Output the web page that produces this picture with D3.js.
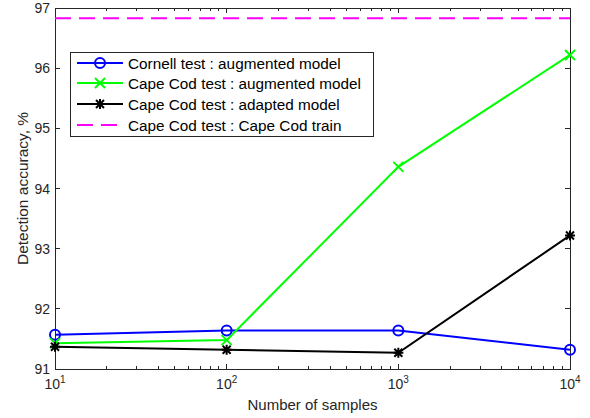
<!DOCTYPE html>
<html><head><meta charset="utf-8">
<script src="https://cdn.jsdelivr.net/npm/d3@7"></script>
<style>body{margin:0;background:#fff;} text{font-family:Helvetica, Arial, "Liberation Sans", sans-serif;}</style>
</head><body>
<svg id="c" width="590" height="418"></svg>
<script>
const samples = [10, 100, 1000, 10000];
const cornellAug = [91.57, 91.64, 91.64, 91.32];
const capeAug = [91.43, 91.48, 94.36, 96.22];
const capeAdapted = [91.37, 91.32, 91.27, 93.22];
const capeTrain = 96.83;
const yTicks = [91, 92, 93, 94, 95, 96, 97];
const xTickExps = [1, 2, 3, 4];
const seriesNames = ["Cornell test : augmented model", "Cape Cod test : augmented model", "Cape Cod test : adapted model", "Cape Cod test : Cape Cod train"];

const svg = d3.select("#c");
const L = 55, R = 570, T = 8, B = 369;
const x = d3.scaleLog().domain([10, 10000]).range([L, R]);
const y = d3.scaleLinear().domain([91, 97]).range([B, T]);
const axisCol = "#262626";

svg.append("rect").attr("width", 590).attr("height", 418).attr("fill", "#fff");

svg.append("rect").attr("x", L).attr("y", T).attr("width", R - L).attr("height", B - T)
  .attr("fill", "none").attr("stroke", axisCol).attr("stroke-width", 1).attr("shape-rendering", "crispEdges");

const minor = [];
for (let e = 1; e < 4; e++) for (let m = 2; m <= 9; m++) minor.push(m * Math.pow(10, e));
const gx = svg.append("g").attr("stroke", axisCol).attr("shape-rendering", "crispEdges");
xTickExps.forEach(e => {
  const px = x(Math.pow(10, e));
  gx.append("line").attr("x1", px).attr("x2", px).attr("y1", B).attr("y2", B - 5);
  gx.append("line").attr("x1", px).attr("x2", px).attr("y1", T).attr("y2", T + 5);
});
minor.forEach(v => {
  const px = x(v);
  gx.append("line").attr("x1", px).attr("x2", px).attr("y1", B).attr("y2", B - 3);
  gx.append("line").attr("x1", px).attr("x2", px).attr("y1", T).attr("y2", T + 3);
});
yTicks.forEach(v => {
  const py = y(v);
  gx.append("line").attr("x1", L).attr("x2", L + 5).attr("y1", py).attr("y2", py);
  gx.append("line").attr("x1", R).attr("x2", R - 5).attr("y1", py).attr("y2", py);
  svg.append("text").attr("x", L - 5).attr("y", py + 5).attr("text-anchor", "end")
    .attr("font-size", 14).attr("fill", axisCol).text(v);
});
xTickExps.forEach(e => {
  const t = svg.append("text").attr("x", x(Math.pow(10, e))).attr("y", 389).attr("text-anchor", "middle")
    .attr("font-size", 14).attr("fill", axisCol);
  t.append("tspan").text("10");
  t.append("tspan").attr("dy", -6).attr("font-size", 10).text(e);
});
svg.append("text").attr("x", (L + R) / 2).attr("y", 410).attr("text-anchor", "middle")
  .attr("font-size", 15).attr("fill", axisCol).text("Number of samples");
svg.append("text").attr("transform", `translate(28,${(T + B) / 2}) rotate(-90)`).attr("text-anchor", "middle")
  .attr("font-size", 15.5).attr("fill", axisCol).text("Detection accuracy, %");

function marker(g, type, cx, cy, col) {
  if (type === "o") {
    g.append("circle").attr("cx", cx).attr("cy", cy).attr("r", 5).attr("fill", "none").attr("stroke", col).attr("stroke-width", 2);
  } else if (type === "x") {
    const s = 5;
    g.append("path").attr("d", `M${cx - s},${cy - s}L${cx + s},${cy + s}M${cx - s},${cy + s}L${cx + s},${cy - s}`)
      .attr("stroke", col).attr("stroke-width", 2);
  } else if (type === "*") {
    const s = 5, d = 4;
    g.append("path").attr("d", `M${cx - d},${cy - d}L${cx + d},${cy + d}M${cx - d},${cy + d}L${cx + d},${cy - d}M${cx},${cy - s}L${cx},${cy + s}M${cx - s},${cy}L${cx + s},${cy}`)
      .attr("stroke", col).attr("stroke-width", 2);
  }
}

const series = [
  {vals: cornellAug, col: "#0000ff", m: "o"},
  {vals: capeAug, col: "#00ff00", m: "x"},
  {vals: capeAdapted, col: "#000000", m: "*"}
];
const line = d3.line().x((d, i) => x(samples[i])).y(d => y(d));

svg.append("line").attr("x1", L).attr("x2", R).attr("y1", y(capeTrain)).attr("y2", y(capeTrain))
  .attr("stroke", "#ff00ff").attr("stroke-width", 2).attr("stroke-dasharray", "16,8");

series.forEach(s => {
  svg.append("path").datum(s.vals).attr("d", line).attr("fill", "none").attr("stroke", s.col).attr("stroke-width", 2);
  const g = svg.append("g");
  s.vals.forEach((v, i) => marker(g, s.m, x(samples[i]), y(v), s.col));
});

const lg = svg.append("g");
lg.append("rect").attr("x", 70.5).attr("y", 52.5).attr("width", 303).attr("height", 84)
  .attr("fill", "#fff").attr("stroke", axisCol).attr("stroke-width", 1);
const legYs = [63, 83, 104, 125];
const legItems = [
  {col: "#0000ff", m: "o"}, {col: "#00ff00", m: "x"}, {col: "#000000", m: "*"}, {col: "#ff00ff", m: null}
];
legItems.forEach((it, i) => {
  const ly = legYs[i];
  const ln = lg.append("line").attr("x1", 77).attr("x2", 123).attr("y1", ly).attr("y2", ly)
    .attr("stroke", it.col).attr("stroke-width", 2);
  if (it.m) marker(lg, it.m, 100, ly, it.col);
  else ln.attr("stroke-dasharray", "16,8");
  lg.append("text").attr("x", 128).attr("y", ly + 5.5).attr("font-size", 15.3).attr("fill", "#000").text(seriesNames[i]);
});
</script>
</body></html>
